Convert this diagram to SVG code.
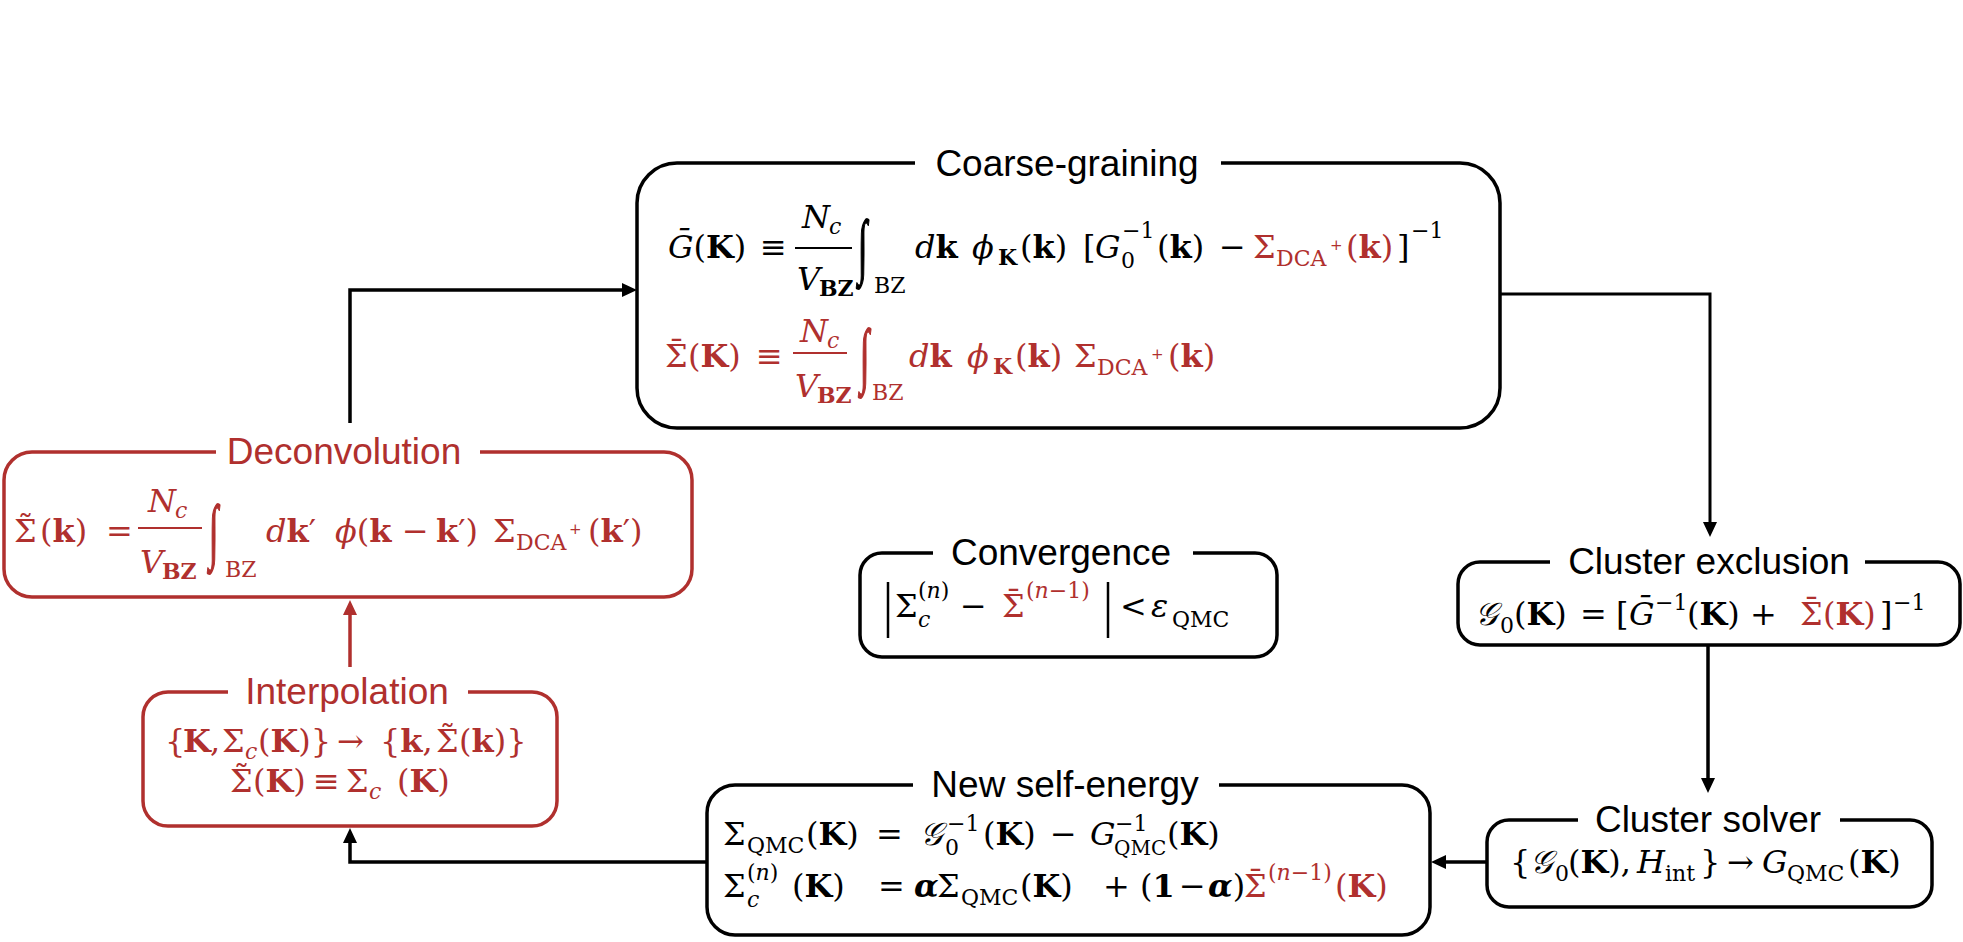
<svg xmlns="http://www.w3.org/2000/svg" width="1963" height="942" viewBox="0 0 1963 942">
<defs>
<style>
.box{fill:none;stroke:#000;stroke-width:3.5}
.rbox{fill:none;stroke:#B0302E;stroke-width:3.5}
.gap{fill:#fff}
.ttl{font-family:"Liberation Sans",Arial,sans-serif;font-size:37px;text-anchor:middle;fill:#000}
.rt{fill:#B0302E}
.m{font-family:"DejaVu Serif","Liberation Serif",serif;font-size:32px;fill:#000}
.red{fill:#B0302E}
.i{font-style:italic}
.b{font-weight:bold}
.s{font-size:22px}
.ss{font-size:15px}
.int{font-family:"Liberation Serif",serif;font-size:34px;stroke:#000;stroke-width:0.9}
.rint{fill:#B0302E;stroke:#B0302E}
.con{fill:none;stroke:#000;stroke-width:3.5}
.rcon{fill:none;stroke:#B0302E;stroke-width:3.5}
.bar{stroke:#000;stroke-width:2}
.rbar{stroke:#B0302E;stroke-width:2}
</style>
<marker id="ah" markerUnits="userSpaceOnUse" markerWidth="16" markerHeight="14" refX="5" refY="7" orient="auto"><path d="M0,0 L15,7 L0,14 z" fill="#000"/></marker>
<marker id="ahr" markerUnits="userSpaceOnUse" markerWidth="16" markerHeight="14" refX="5" refY="7" orient="auto"><path d="M0,0 L15,7 L0,14 z" fill="#B0302E"/></marker>
</defs>
<rect width="1963" height="942" fill="#fff"/>

<g id="connectors">
<path class="con" d="M350,423 V290 H627" marker-end="url(#ah)"/>
<path class="con" style="stroke-width:3" d="M1500,294 H1710 V527" marker-end="url(#ah)"/>
<path class="con" d="M1708,645 V783" marker-end="url(#ah)"/>
<path class="con" d="M1487,862 H1441" marker-end="url(#ah)"/>
<path class="con" d="M707,862 H350 V838" marker-end="url(#ah)"/>
<path class="rcon" d="M350,667 V610" marker-end="url(#ahr)"/>
</g>

<g id="coarse-graining">
<rect class="box" x="637" y="163" width="863" height="265" rx="40"/>
<rect class="gap" x="915" y="150" width="306" height="26"/>
<text class="ttl" x="1067" y="176">Coarse-graining</text>
<text class="m">
<tspan class="i" x="668" y="258">Ḡ</tspan><tspan>(</tspan><tspan class="b">K</tspan><tspan>)</tspan>
<tspan x="760" y="258">≡</tspan>
<tspan class="i" x="802" y="228">N</tspan><tspan class="i s" x="829" y="234">c</tspan>
<tspan class="i" x="797" y="290">V</tspan><tspan class="b s" x="819" y="296">BZ</tspan>
<tspan class="s" x="874" y="293">BZ</tspan>
<tspan class="i" x="915" y="258">d</tspan><tspan class="b">k</tspan>
<tspan class="i" x="972" y="258">ϕ</tspan><tspan class="b s" x="998" y="265">K</tspan><tspan x="1020" y="258">(</tspan><tspan class="b">k</tspan><tspan>)</tspan>
<tspan x="1083" y="258">[</tspan><tspan class="i" x="1095" y="258">G</tspan><tspan class="s" x="1121" y="268">0</tspan><tspan class="s" x="1122" y="238">−1</tspan>
<tspan x="1157" y="258">(</tspan><tspan class="b">k</tspan><tspan>)</tspan><tspan x="1219" y="258">−</tspan>
<tspan class="red" x="1253" y="258">Σ</tspan><tspan class="red s" x="1276" y="266">DCA</tspan><tspan class="red ss" x="1330" y="250">+</tspan><tspan class="red" x="1346" y="258">(</tspan><tspan class="red b">k</tspan><tspan class="red">)</tspan>
<tspan x="1397" y="258">]</tspan><tspan class="s" x="1411" y="238">−1</tspan>
</text>
<line class="bar" x1="795" y1="248" x2="852" y2="248"/>
<text class="int" transform="translate(858,270) scale(1,2.1)">∫</text>
<text class="m red">
<tspan x="665" y="367">Σ</tspan><tspan x="668.5" y="362">¯</tspan><tspan x="688" y="367">(</tspan><tspan class="b">K</tspan><tspan>)</tspan>
<tspan x="756" y="367">≡</tspan>
<tspan class="i" x="800" y="342">N</tspan><tspan class="i s" x="827" y="348">c</tspan>
<tspan class="i" x="795" y="397">V</tspan><tspan class="b s" x="817" y="403">BZ</tspan>
<tspan class="s" x="872" y="400">BZ</tspan>
<tspan class="i" x="909" y="367">d</tspan><tspan class="b">k</tspan>
<tspan class="i" x="967" y="367">ϕ</tspan><tspan class="b s" x="993" y="374">K</tspan><tspan x="1015" y="367">(</tspan><tspan class="b">k</tspan><tspan>)</tspan>
<tspan x="1074" y="367">Σ</tspan><tspan class="s" x="1097" y="375">DCA</tspan><tspan class="ss" x="1151" y="359">+</tspan><tspan x="1168" y="367">(</tspan><tspan class="b">k</tspan><tspan>)</tspan>
</text>
<line class="rbar" x1="793" y1="353" x2="847" y2="353"/>
<text class="int rint" transform="translate(860,379) scale(1,2.1)">∫</text>
</g>

<g id="deconvolution">
<rect class="rbox" x="4" y="452" width="688" height="145" rx="28"/>
<rect class="gap" x="216" y="440" width="264" height="24"/>
<text class="ttl rt" x="344" y="464">Deconvolution</text>
<text class="m red">
<tspan x="14" y="542">Σ</tspan><tspan x="17.5" y="537">˜</tspan><tspan x="40" y="542">(</tspan><tspan class="b">k</tspan><tspan>)</tspan>
<tspan x="106" y="542">=</tspan>
<tspan class="i" x="148" y="512">N</tspan><tspan class="i s" x="175" y="518">c</tspan>
<tspan class="i" x="140" y="573">V</tspan><tspan class="b s" x="162" y="579">BZ</tspan>
<tspan class="s" x="225" y="577">BZ</tspan>
<tspan class="i" x="266" y="542">d</tspan><tspan class="b">k</tspan><tspan>′</tspan>
<tspan class="i" x="335" y="542">ϕ</tspan><tspan>(</tspan><tspan class="b">k</tspan><tspan x="402" y="542">−</tspan><tspan class="b" x="436" y="542">k</tspan><tspan>′)</tspan>
<tspan x="493" y="542">Σ</tspan><tspan class="s" x="516" y="550">DCA</tspan><tspan class="ss" x="569" y="534">+</tspan><tspan x="588" y="542">(</tspan><tspan class="b">k</tspan><tspan>′)</tspan>
</text>
<line class="rbar" x1="138" y1="528" x2="202" y2="528"/>
<text class="int rint" transform="translate(209,555) scale(1,2.1)">∫</text>
</g>

<g id="interpolation">
<rect class="rbox" x="143" y="692" width="414" height="134" rx="25"/>
<rect class="gap" x="228" y="680" width="240" height="24"/>
<text class="ttl rt" x="347" y="704">Interpolation</text>
<text class="m red">
<tspan x="165" y="752">{</tspan><tspan class="b" x="183" y="752">K</tspan><tspan x="210" y="752">,</tspan>
<tspan x="222" y="752">Σ</tspan><tspan class="i s" x="245" y="759">c</tspan><tspan x="258" y="752">(</tspan><tspan class="b">K</tspan><tspan>)}</tspan>
<tspan x="337" y="752">→</tspan>
<tspan x="380" y="752">{</tspan><tspan class="b">k</tspan><tspan>,</tspan><tspan x="436" y="752">Σ</tspan><tspan x="439.5" y="747">˜</tspan><tspan x="459" y="752">(</tspan><tspan class="b">k</tspan><tspan>)}</tspan>
<tspan x="230" y="792">Σ</tspan><tspan x="233.5" y="787">˜</tspan><tspan x="253" y="792">(</tspan><tspan class="b">K</tspan><tspan>)</tspan>
<tspan x="313" y="792">≡</tspan>
<tspan x="346" y="792">Σ</tspan><tspan class="i s" x="369" y="799">c</tspan><tspan x="397" y="792">(</tspan><tspan class="b">K</tspan><tspan>)</tspan>
</text>
</g>

<g id="convergence">
<rect class="box" x="860" y="553" width="417" height="104" rx="22"/>
<rect class="gap" x="933" y="540" width="260" height="24"/>
<text class="ttl" x="1061" y="565">Convergence</text>
<line class="bar" style="stroke-width:2.5" x1="888" y1="582" x2="888" y2="638"/>
<line class="bar" style="stroke-width:2.5" x1="1108" y1="582" x2="1108" y2="638"/>
<text class="m">
<tspan x="895" y="617">Σ</tspan><tspan class="i s" x="918" y="627">c</tspan><tspan class="s" x="918" y="598">(</tspan><tspan class="i s">n</tspan><tspan class="s">)</tspan>
<tspan x="960" y="617">−</tspan>
<tspan class="red" x="1002" y="617">Σ</tspan><tspan class="red" x="1005.5" y="612">¯</tspan><tspan class="red s" x="1026" y="598">(</tspan><tspan class="red i s">n</tspan><tspan class="red s">−1)</tspan>
<tspan x="1120" y="617">&lt;</tspan>
<tspan class="i" x="1151" y="617">ε</tspan><tspan class="s" x="1172" y="627">QMC</tspan>
</text>
</g>

<g id="cluster-exclusion">
<rect class="box" x="1458" y="562" width="502" height="83" rx="22"/>
<rect class="gap" x="1550" y="550" width="315" height="24"/>
<text class="ttl" x="1709" y="574">Cluster exclusion</text>
<text class="m">
<tspan class="i" x="1475" y="625">𝒢</tspan><tspan class="s" x="1500" y="633">0</tspan><tspan x="1514" y="625">(</tspan><tspan class="b">K</tspan><tspan>)</tspan>
<tspan x="1580" y="625">=</tspan>
<tspan x="1616" y="625">[</tspan><tspan class="i" x="1629" y="625">Ḡ</tspan><tspan class="s" x="1655" y="610">−1</tspan><tspan x="1687" y="625">(</tspan><tspan class="b">K</tspan><tspan>)</tspan>
<tspan x="1750" y="625">+</tspan>
<tspan class="red" x="1800" y="625">Σ</tspan><tspan class="red" x="1803.5" y="620">¯</tspan><tspan class="red" x="1823" y="625">(</tspan><tspan class="red b">K</tspan><tspan class="red">)</tspan>
<tspan x="1880" y="625">]</tspan><tspan class="s" x="1893" y="610">−1</tspan>
</text>
</g>

<g id="cluster-solver">
<rect class="box" x="1487" y="820" width="445" height="87" rx="22"/>
<rect class="gap" x="1578" y="808" width="262" height="24"/>
<text class="ttl" x="1708" y="832">Cluster solver</text>
<text class="m">
<tspan x="1510" y="873">{</tspan><tspan class="i" x="1530" y="873">𝒢</tspan><tspan class="s" x="1555" y="881">0</tspan><tspan x="1568" y="873">(</tspan><tspan class="b">K</tspan><tspan>),</tspan>
<tspan class="i" x="1637" y="873">H</tspan><tspan class="s" x="1665" y="881">int</tspan><tspan x="1700" y="873">}</tspan>
<tspan x="1727" y="873">→</tspan>
<tspan class="i" x="1762" y="873">G</tspan><tspan class="s" x="1787" y="881">QMC</tspan><tspan x="1848" y="873">(</tspan><tspan class="b">K</tspan><tspan>)</tspan>
</text>
</g>

<g id="new-self-energy">
<rect class="box" x="707" y="785" width="723" height="150" rx="28"/>
<rect class="gap" x="913" y="773" width="306" height="24"/>
<text class="ttl" x="1065" y="797">New self-energy</text>
<text class="m">
<tspan x="723" y="845">Σ</tspan><tspan class="s" x="747" y="853">QMC</tspan><tspan x="806" y="845">(</tspan><tspan class="b">K</tspan><tspan>)</tspan>
<tspan x="876" y="845">=</tspan>
<tspan class="i" x="920" y="845">𝒢</tspan><tspan class="s" x="945" y="855">0</tspan><tspan class="s" x="947" y="831">−1</tspan><tspan x="983" y="845">(</tspan><tspan class="b">K</tspan><tspan>)</tspan>
<tspan x="1050" y="845">−</tspan>
<tspan class="i" x="1090" y="845">G</tspan><tspan class="s" x="1115" y="831">−1</tspan><tspan class="s" style="font-size:20px" x="1114" y="855">QMC</tspan><tspan x="1167" y="845">(</tspan><tspan class="b">K</tspan><tspan>)</tspan>
<tspan x="723" y="897">Σ</tspan><tspan class="i s" x="747" y="907">c</tspan><tspan class="s" x="747" y="880">(</tspan><tspan class="i s">n</tspan><tspan class="s">)</tspan><tspan x="792" y="897">(</tspan><tspan class="b">K</tspan><tspan>)</tspan>
<tspan x="878" y="897">=</tspan>
<tspan class="i b" x="914" y="897">α</tspan><tspan x="937" y="897">Σ</tspan><tspan class="s" x="961" y="905">QMC</tspan><tspan x="1020" y="897">(</tspan><tspan class="b">K</tspan><tspan>)</tspan>
<tspan x="1103" y="897">+</tspan>
<tspan x="1140" y="897">(</tspan><tspan class="b">1</tspan><tspan x="1179" y="897">−</tspan><tspan class="i b" x="1208" y="897">α</tspan><tspan>)</tspan>
<tspan class="red" x="1244" y="897">Σ</tspan><tspan class="red" x="1247.5" y="892">¯</tspan><tspan class="red s" x="1268" y="880">(</tspan><tspan class="red i s">n</tspan><tspan class="red s">−1)</tspan><tspan class="red" x="1335" y="897">(</tspan><tspan class="red b">K</tspan><tspan class="red">)</tspan>
</text>
</g>
</svg>
